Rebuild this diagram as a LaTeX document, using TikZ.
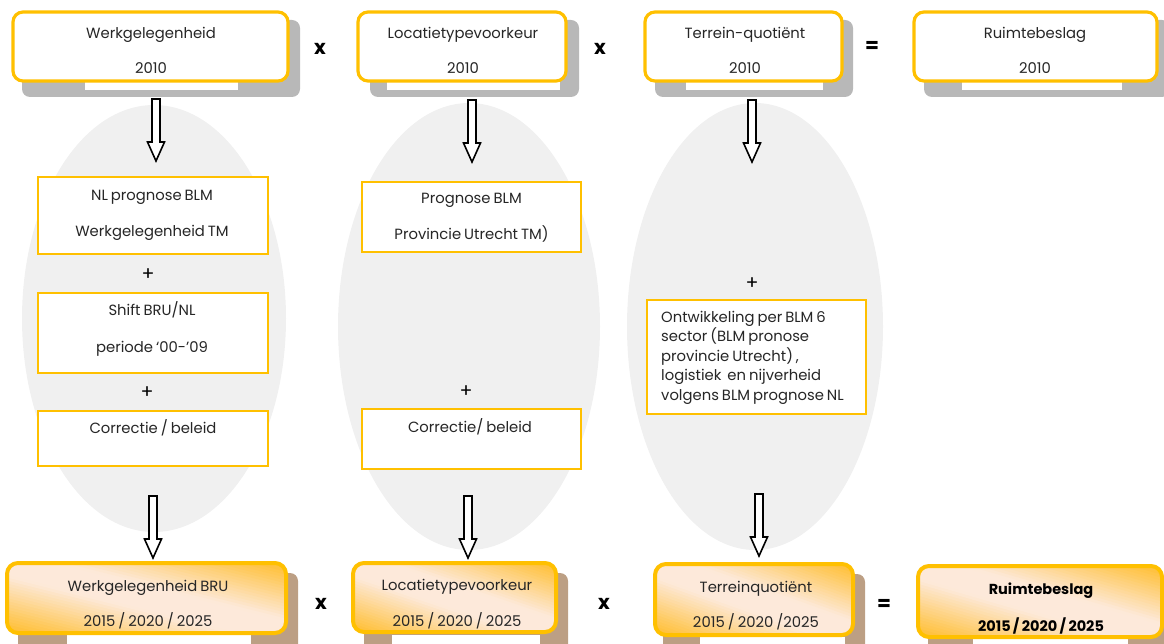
\documentclass[tikz,border=0pt]{standalone}
\usepackage{fontspec}
\setmainfont{Poppins}[WordSpace=0.75]
\usetikzlibrary{shapes.geometric}
\definecolor{orng}{HTML}{FFC000}
\definecolor{gshadow}{HTML}{B8B8B8}
\definecolor{bshadow}{HTML}{BC9F84}
\definecolor{ellfill}{HTML}{F0F0F0}
\definecolor{peach}{HTML}{FDE9DA}
\definecolor{gradorange}{HTML}{FFC23F}
\definecolor{txt}{HTML}{262626}
\newcommand{\gradfill}[4]{%
  \begin{scope}
    \clip[rounded corners=11pt] ({#1-#3/2},{#2-#4/2}) rectangle ({#1+#3/2},{#2+#4/2});
    \pgfmathsetmacro{\gnorm}{veclen(#3,#4)}
    \pgfmathsetmacro{\gtx}{#3/\gnorm}
    \pgfmathsetmacro{\gty}{#4/\gnorm}
    \pgfmathsetmacro{\gdd}{#3*\gty}
    \foreach \gk in {-24,...,23} {
      \pgfmathsetmacro{\gsa}{\gk/24*\gdd}
      \pgfmathsetmacro{\gsb}{(\gk+1.4)/24*\gdd}
      \pgfmathsetmacro{\gmd}{abs(\gk+0.5)/24}
      \pgfmathtruncatemacro{\gpc}{max(0,min(100,(\gmd-0.18)/0.72*100))}
      \fill[gradorange!\gpc!peach]
        ({#1+\gsa*\gty-200*\gtx},{#2-\gsa*\gtx-200*\gty}) --
        ({#1+\gsa*\gty+200*\gtx},{#2-\gsa*\gtx+200*\gty}) --
        ({#1+\gsb*\gty+200*\gtx},{#2-\gsb*\gtx+200*\gty}) --
        ({#1+\gsb*\gty-200*\gtx},{#2-\gsb*\gtx-200*\gty}) -- cycle;
    }
  \end{scope}}
\tikzset{
  ell/.style={ellipse, fill=ellfill, draw=none, inner sep=0pt},
  topbox/.style={draw=orng, line width=3.2pt, fill=white, rounded corners=10pt, inner sep=0pt},
  botbox/.style={draw=orng, line width=4pt, rounded corners=11pt, inner sep=0pt},
  midbox/.style={draw=orng, line width=2.4pt, fill=white, inner sep=0pt},
  lbl/.style={text=txt, inner sep=0pt, anchor=base, font=\fontsize{14.8}{16}\selectfont},
  lblw/.style={lbl, anchor=base west},
  bold/.style={lbl, font=\fontsize{14.5}{16}\selectfont\bfseries, text=black},
  op/.style={inner sep=0pt, text=black, font=\fontsize{20}{22}\selectfont\bfseries},
  plus/.style={inner sep=0pt, text=black, font=\fontsize{19}{20}\selectfont},
  gshad/.style={fill=gshadow, rounded corners=8pt},
  bshad/.style={fill=bshadow, rounded corners=8pt},
  strip/.style={fill=white},
  downarr/.pic={\draw[black, line width=1.6pt, fill=white, line join=miter]
      (-4,0) -- (-4,43) -- (-8.5,43) -- (0,62) -- (8.5,43) -- (4,43) -- (4,0) -- cycle;}
}
\begin{document}
\begin{tikzpicture}[x=1pt,y=-1pt]
\useasboundingbox (0,0) rectangle (1164,644);
% ellipses
\node[ell, minimum width=264pt, minimum height=427pt] (e1) at (154,318.5) {};
\node[ell, minimum width=262pt, minimum height=447pt] (e2) at (469,326.5) {};
\node[ell, minimum width=256pt, minimum height=447pt] (e3) at (755,326.5) {};
% top shadows and strips
\fill[gshad] (22,20) rectangle (300,97);
\fill[gshad] (370,20) rectangle (579,97);
\fill[gshad] (655,20) rectangle (853,97);
\fill[gshad] (924,20) rectangle (1170,97);
\fill[strip] (85,82) rectangle (238,90);
\fill[strip] (387,82) rectangle (560,90);
\fill[strip] (686,82) rectangle (823,90);
\fill[strip] (962,82) rectangle (1122,90);
% top boxes
\node[topbox, minimum width=275pt, minimum height=69pt] (b1) at (150.5,46.5) {};
\node[topbox, minimum width=208pt, minimum height=69pt] (b2) at (462,46.5) {};
\node[topbox, minimum width=197pt, minimum height=69pt] (b3) at (743.5,46.5) {};
\node[topbox, minimum width=243pt, minimum height=69pt] (b4) at (1035.5,46.5) {};
\node[lbl] (b1a) at (151,39) {Werkgelegenheid};
\node[lbl] (b1b) at (151,74) {2010};
\node[lbl] (b2a) at (463,39) {Locatietypevoorkeur};
\node[lbl] (b2b) at (463,74) {2010};
\node[lbl] (b3a) at (745,39) {Terrein-quotiënt};
\node[lbl] (b3b) at (745,74) {2010};
\node[lbl] (b4a) at (1035,39) {Ruimtebeslag};
\node[lbl] (b4b) at (1035,74) {2010};
\node[op] (o1) at (320,49) {x};
\node[op] (o2) at (600,49) {x};
\node[op] (o3) at (872,47) {=};
% top arrows
\pic (ta1) at (156,99) {downarr};
\pic (ta2) at (472,100) {downarr};
\pic (ta3) at (752,100) {downarr};
% middle column 1
\node[midbox, minimum width=230pt, minimum height=77pt] (m1a) at (153,215.5) {};
\node[lbl] (m1a1) at (152,201) {NL prognose BLM};
\node[lbl] (m1a2) at (152,237) {Werkgelegenheid TM};
\node[plus] (p1) at (148,275) {+};
\node[midbox, minimum width=230pt, minimum height=80pt] (m1b) at (153,333) {};
\node[lbl] (m1b1) at (152,315) {Shift BRU/NL};
\node[lbl] (m1b2) at (152,352) {periode ‘00-’09};
\node[plus] (p2) at (147,393) {+};
\node[midbox, minimum width=230pt, minimum height=55pt] (m1c) at (153,438.5) {};
\node[lbl] (m1c1) at (153,433) {Correctie / beleid};
% middle column 2
\node[midbox, minimum width=219pt, minimum height=70pt] (m2a) at (471.5,217) {};
\node[lbl] (m2a1) at (471.5,204) {Prognose BLM};
\node[lbl] (m2a2) at (471.5,240) {Provincie Utrecht TM)};
\node[plus] (p3) at (466,392) {+};
\node[midbox, minimum width=219pt, minimum height=60pt] (m2b) at (471.5,439) {};
\node[lbl] (m2b1) at (470,432) {Correctie/ beleid};
% middle column 3
\node[plus] (p4) at (752,284) {+};
\node[midbox, minimum width=219pt, minimum height=114pt] (m3) at (756.5,357) {};
\node[lblw] (m31) at (661,322) {Ontwikkeling per BLM 6};
\node[lblw] (m32) at (661,341.5) {sector (BLM pronose};
\node[lblw] (m33) at (661,361) {provincie Utrecht) ,};
\node[lblw] (m34) at (661,380.5) {logistiek~ en nijverheid};
\node[lblw] (m35) at (661,400) {volgens BLM prognose NL};
% bottom arrows
\pic (ba1) at (153,496) {downarr};
\pic (ba2) at (468,496) {downarr};
\pic (ba3) at (759,494) {downarr};
% bottom shadows and strips
\fill[bshad] (18,573) rectangle (298,655);
\fill[bshad] (364,573) rectangle (568,655);
\fill[bshad] (663,574) rectangle (865,655);
\fill[bshad] (928,576) rectangle (1172,655);
\fill[strip] (67,635) rectangle (251,650);
\fill[strip] (392,635) rectangle (540,650);
\fill[strip] (700,637) rectangle (845,650);
\fill[strip] (973,639) rectangle (1128,650);
% bottom boxes (gradient fill, then border)
\gradfill{146.5}{598}{279}{70}
\gradfill{454.5}{597.5}{203}{69}
\gradfill{754}{599.5}{198}{71}
\gradfill{1040}{601.5}{244}{71}
\node[botbox, minimum width=279pt, minimum height=70pt] (bb1) at (146.5,598) {};
\node[botbox, minimum width=203pt, minimum height=69pt] (bb2) at (454.5,597.5) {};
\node[botbox, minimum width=198pt, minimum height=71pt] (bb3) at (754,599.5) {};
\node[botbox, minimum width=244pt, minimum height=71pt] (bb4) at (1040,601.5) {};
\node[lbl] (bb1a) at (148,591) {Werkgelegenheid BRU};
\node[lbl] (bb1b) at (148,626) {2015 / 2020 / 2025};
\node[lbl] (bb2a) at (457,590) {Locatietypevoorkeur};
\node[lbl] (bb2b) at (457,626) {2015 / 2020 / 2025};
\node[lbl] (bb3a) at (756,592) {Terreinquotiënt};
\node[lbl] (bb3b) at (756,627) {2015 / 2020 /2025};
\node[bold] (bb4a) at (1041,594) {Ruimtebeslag};
\node[bold] (bb4b) at (1041,631) {2015 / 2020 / 2025};
\node[op] (o4) at (321,604) {x};
\node[op] (o5) at (604,604) {x};
\node[op] (o6) at (884,605) {=};
\end{tikzpicture}
\end{document}
